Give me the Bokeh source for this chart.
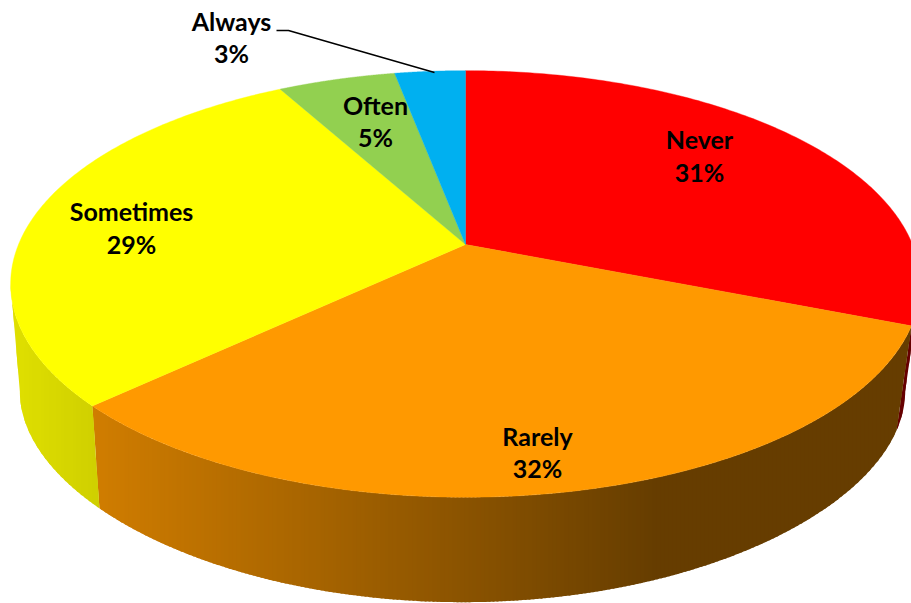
import numpy as np
from bokeh.core.properties import value
from bokeh.embed import file_html
from bokeh.models import ColumnDataSource, Range1d
from bokeh.plotting import figure
from bokeh.resources import INLINE

# Survey answers, clockwise from twelve o'clock
categories = ["Never", "Rarely", "Sometimes", "Often", "Always"]
percentages = [31, 32, 29, 5, 3]
face_colors = ["#FF0000", "#FF9900", "#FFFF00", "#92D050", "#00B0F0"]

# Label anchors on the page: centre x and the y of each of the two lines
label_x = [699, 537, 131, 375, 231]
label_y_name = [138, 435, 210, 104, 20]
label_y_pct = [171, 467, 243, 136, 52]

WIDTH, HEIGHT = 911, 603
FONT = "Lato"
FONT_SIZE = "25px"
STRIP = 4  # width in pixels of one band of the side wall's shading
OVERLAP = 2  # each band runs under its right-hand neighbour to hide seams
TILT = 0.185  # strength of the perspective foreshortening


def top_rim(theta):
    """Project a point of the pie's upper rim through the tilted perspective."""
    den = 1 + TILT * np.cos(theta)
    return 465 + 447 * np.sin(theta) / den, 244 - 206 * np.cos(theta) / den


def bottom_rim(theta):
    """Same projection for the lower rim, which sits farther from the eye."""
    den_x = 1 + TILT * np.cos(theta)
    den_y = 1 + 0.25 * np.cos(theta)
    return 462 + 435 * np.sin(theta) / den_x, 355 - 185 * np.cos(theta) / den_y


def shade(hex_color, x):
    """Darken a face colour for the side wall, getting darker towards the right."""
    f = np.clip(0.82 - (x - 89) * 0.00074, 0.40, 0.88)
    rgb = [int(hex_color[i:i + 2], 16) for i in (1, 3, 5)]
    return "#%02x%02x%02x" % tuple(int(round(c * f)) for c in rgb)


def clip_band(points, x0, x1):
    """Clip a polygon to the vertical band x0 <= x <= x1."""
    def clip(poly, limit, keep_right):
        out = []
        for i, (xa, ya) in enumerate(poly):
            xb, yb = poly[(i + 1) % len(poly)]
            in_a = xa >= limit if keep_right else xa <= limit
            in_b = xb >= limit if keep_right else xb <= limit
            if in_a:
                out.append((xa, ya))
            if in_a != in_b:
                out.append((limit, ya + (yb - ya) * (limit - xa) / (xb - xa)))
        return out
    first = clip(points, x0, True)
    return clip(first, x1, False) if first else []


edges = np.radians(np.concatenate([[0], np.cumsum(percentages)]) * 3.6)

p = figure(width=WIDTH, height=HEIGHT, output_backend="svg", toolbar_location=None,
           x_range=Range1d(0, WIDTH), y_range=Range1d(HEIGHT, 0),
           min_border=0, outline_line_color=None, background_fill_color="white")
p.axis.visible = False
p.grid.visible = False

# The wall is visible between the rim's left-most and right-most points
wall_start = np.arccos(-TILT)
wall_stop = 2 * np.pi - wall_start

# Side wall: each slice's outline is cut into vertical bands, shaded by position
wall_xs, wall_ys, wall_colors = [], [], []
for start, stop, color in zip(edges[:-1], edges[1:], face_colors):
    lo, hi = max(start, wall_start), min(stop, wall_stop)
    if lo >= hi:
        continue
    arc = np.linspace(lo, hi, 200)
    tx, ty = top_rim(arc)
    bx, by = bottom_rim(arc[::-1])
    outline = list(zip(np.concatenate([tx, bx]), np.concatenate([ty, by])))
    for x0 in range(0, WIDTH, STRIP):
        band = clip_band(outline, x0, x0 + STRIP + OVERLAP)
        if len(band) >= 3:
            wall_xs.append([q[0] for q in band])
            wall_ys.append([q[1] for q in band])
            wall_colors.append(shade(color, x0 + STRIP / 2))

p.patches(wall_xs, wall_ys, fill_color=wall_colors, line_color=None)

# Top face of each slice, fanned from the projected pie centre
cx, cy = 465, 244
face_xs, face_ys = [], []
for start, stop in zip(edges[:-1], edges[1:]):
    arc = np.linspace(start, stop, 160)
    ax, ay = top_rim(arc)
    face_xs.append(np.concatenate([[cx], ax]))
    face_ys.append(np.concatenate([[cy], ay]))
p.patches(face_xs, face_ys, fill_color=face_colors, line_color=face_colors, line_width=0.4)

# Leader line from the small slice's label to its rim
p.line([276, 288, 434], [30, 30, 72], line_color="black", line_width=1.5)

names = ColumnDataSource(dict(x=label_x, y=label_y_name, text=categories))
pcts = ColumnDataSource(dict(x=label_x, y=label_y_pct, text=[f"{v}%" for v in percentages]))
for src in (names, pcts):
    p.text("x", "y", "text", source=src, text_font=value(FONT), text_font_style="bold",
           text_font_size=FONT_SIZE, text_color="black",
           text_align="center", text_baseline="middle")

open("out.html", "w").write(file_html(p, INLINE))
